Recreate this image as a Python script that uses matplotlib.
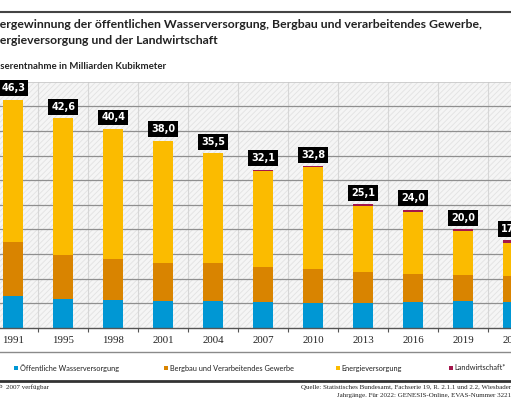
import matplotlib
matplotlib.use("Agg")
import matplotlib.pyplot as plt
from matplotlib.patches import Rectangle
from matplotlib.lines import Line2D
import numpy as np

years = ["1991", "1995", "1998", "2001", "2004", "2007", "2010", "2013", "2016", "2019", "2022"]
oeffentlich = [6.5, 5.9, 5.7, 5.4, 5.4, 5.2, 5.1, 5.1, 5.2, 5.4, 5.3]
bergbau = [10.9, 9.0, 8.4, 7.8, 7.7, 7.1, 6.8, 6.2, 5.8, 5.4, 5.2]
landwirtschaft = [0.0, 0.0, 0.0, 0.0, 0.0, 0.2, 0.2, 0.3, 0.4, 0.4, 0.5]
totals = [46.3, 42.6, 40.4, 38.0, 35.5, 32.1, 32.8, 25.1, 24.0, 20.0, 17.8]
energie = [t - o - b - l for t, o, b, l in zip(totals, oeffentlich, bergbau, landwirtschaft)]

series_names = ["Öffentliche Wasserversorgung", "Bergbau und Verarbeitendes Gewerbe",
                "Energieversorgung", "Landwirtschaft*"]
colors = ["#0097d4", "#d98400", "#fbbb00", "#a3164b"]

W, H = 511, 400
fig = plt.figure(figsize=(W / 100, H / 100), dpi=100)
plt.rcParams["hatch.linewidth"] = 0.6
sans = "Lato"
serif = "Liberation Serif"


def fy(py):
    return 1 - py / H


def fx(px):
    return px / W


# plot area: pixel 81.7 (top, value 50) to 328 (baseline); the chart runs on
# past the right edge of the picture, like in the reference crop
AX_W = 561
ax = fig.add_axes([0, fy(328), AX_W / W, fy(81.7) - fy(328)])
x = np.arange(len(years))

ax.set_facecolor("#f5f5f5")
ax.add_patch(Rectangle((0, 0), 1, 1, transform=ax.transAxes, facecolor="none",
                       edgecolor="#e2e2e2", hatch="//////", lw=0, zorder=0))

for b in np.arange(-0.5, len(years) + 0.5):
    ax.axvline(b, color="#d6d6d6", lw=0.8, zorder=1)
for v in range(5, 50, 5):
    ax.axhline(v, color="#8f8f8f", lw=0.9, zorder=1)
ax.axhline(50, color="#c8c8c8", lw=1.2, zorder=1)

bw = 0.4
bottom = np.zeros(len(years))
for vals, c in zip([oeffentlich, bergbau, energie, landwirtschaft], colors):
    ax.bar(x, vals, bw, bottom=bottom, color=c, zorder=2, lw=0)
    bottom += np.array(vals)

for xi, t in zip(x, totals):
    ax.annotate(f"{t:.1f}".replace(".", ","), (xi, t), xytext=(0, 8.3),
                textcoords="offset points", ha="center", va="center",
                color="white", fontsize=7, fontweight="bold", family="DejaVu Sans",
                bbox=dict(boxstyle="square,pad=0.3", fc="black", ec="none"),
                annotation_clip=False, zorder=4)

for s in ["top", "left", "right"]:
    ax.spines[s].set_visible(False)
ax.spines["bottom"].set_color("#555555")
ax.spines["bottom"].set_linewidth(1.0)
ax.set_yticks([])
ax.set_xticks(x)
ax.set_xticklabels(years, family=serif, fontsize=7.8, color="#222222")
ax.tick_params(axis="x", which="major", length=0, pad=6)
ax.set_xticks(np.arange(-0.5, len(years) + 0.5), minor=True)
ax.tick_params(axis="x", which="minor", length=3, width=0.8, color="#555555")
# 50 px per category, first bar centred at pixel 13.3
ax.set_xlim(-13.3 / 50, (AX_W - 13.3) / 50)
ax.set_ylim(0, 50)

# header
fig.add_artist(Line2D([0, 1], [fy(12.3)] * 2, color="#444444", lw=1.5))
fig.text(fx(-30.5), fy(24), "Wassergewinnung der öffentlichen Wasserversorgung, Bergbau und verarbeitendes Gewerbe,",
         family=sans, fontweight="bold", fontsize=8.8, va="center", color="#222222")
fig.text(fx(-14), fy(40.7), "Energieversorgung und der Landwirtschaft",
         family=sans, fontweight="bold", fontsize=8.8, va="center", color="#222222")
fig.text(fx(-19), fy(66.7), "Wasserentnahme in Milliarden Kubikmeter",
         family=sans, fontweight="bold", fontsize=6.9, va="center", color="#222222")

# footer
fig.add_artist(Line2D([0, 1], [fy(352)] * 2, color="#8a8a8a", lw=1.0))
fig.add_artist(Line2D([0, 1], [fy(381)] * 2, color="#333333", lw=2.0))

leg_x = [14, 163.5, 335.5, 448.5]
for lx, name, c in zip(leg_x, series_names, colors):
    fig.add_artist(Rectangle((fx(lx), fy(370)), fx(4), 4 / H, transform=fig.transFigure,
                             facecolor=c, edgecolor="none"))
    fig.text(fx(lx + 6), fy(368), name, family=sans, fontsize=5.3, va="center", color="#222222")

fig.text(fx(3), fy(387), "* Landwirtschaft: Daten erst ab", family=serif, fontsize=5.0,
         ha="right", va="center", color="#222222")
fig.text(fx(5.5), fy(387), "2007 verfügbar", family=serif, fontsize=5.0,
         va="center", color="#222222")
fig.text(fx(301), fy(387),
         "Quelle: Statistisches Bundesamt, Fachserie 19, R. 2.1.1 und 2.2, Wiesbaden, verschiedene",
         family=serif, fontsize=5.0, va="center", color="#222222")
fig.text(fx(337), fy(395), "Jahrgänge. Für 2022: GENESIS-Online, EVAS-Nummer 32211",
         family=serif, fontsize=5.0, va="center", color="#222222")

fig.savefig("out.png", dpi=100)
